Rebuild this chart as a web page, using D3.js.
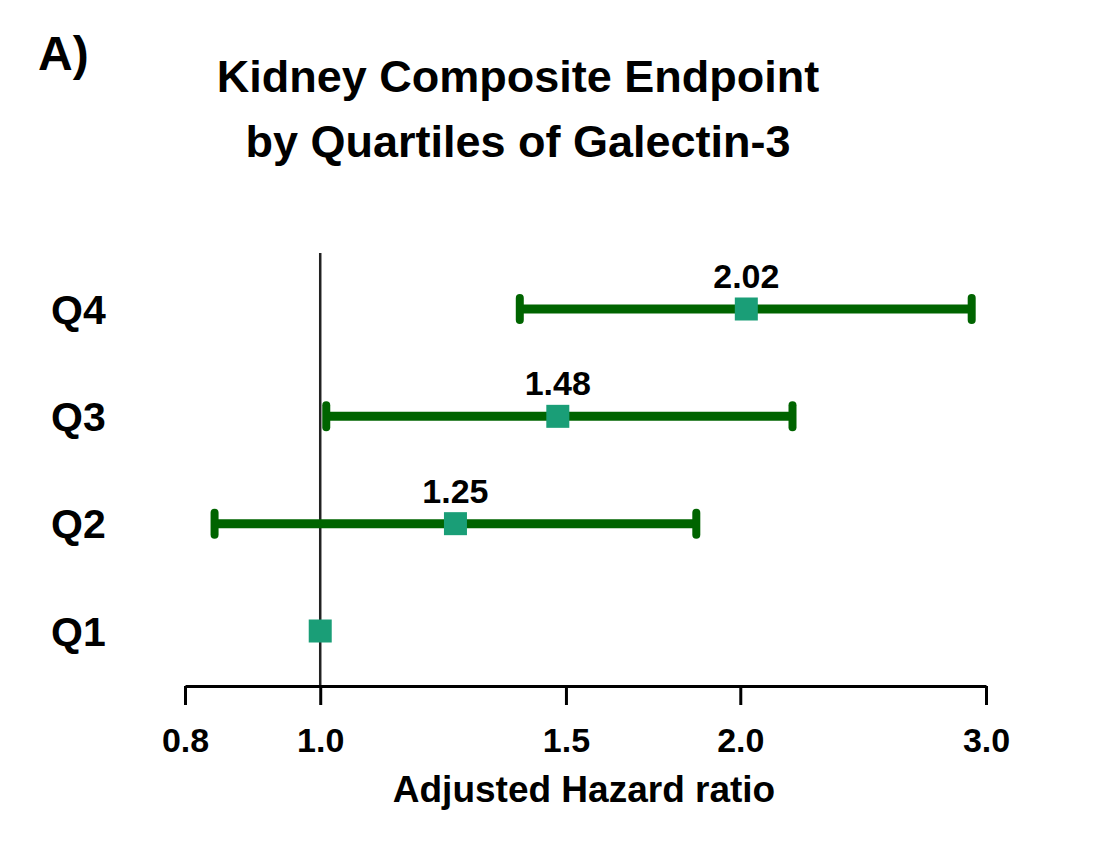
<!DOCTYPE html>
<html><head><meta charset="utf-8">
<script src="https://cdn.jsdelivr.net/npm/d3@7"></script>
<style>body{margin:0;background:#fff}svg{display:block}text{font-family:"Liberation Sans",Arial,sans-serif;font-weight:bold;fill:#000}</style>
</head><body>
<script>
const categories = ["Q4","Q3","Q2","Q1"];
const hr = [2.02, 1.48, 1.25, 1.00];
const lower = [1.39, 1.01, 0.84, null];
const upper = [2.93, 2.18, 1.86, null];
const valueLabels = ["2.02","1.48","1.25",""];
const tickValues = [0.8, 1.0, 1.5, 2.0, 3.0];

const W = 1095, H = 851;
const svg = d3.select("body").append("svg").attr("width", W).attr("height", H);

const x = d3.scaleLog().domain([0.8, 3.0]).range([185, 986]);
const y = d3.scalePoint().domain(categories).range([309, 631]);

svg.append("text").attr("x", 38).attr("y", 70).attr("font-size", 48).text("A)");
svg.append("text").attr("x", 518).attr("y", 92).attr("text-anchor","middle").attr("font-size", 45).text("Kidney Composite Endpoint");
svg.append("text").attr("x", 518).attr("y", 157).attr("text-anchor","middle").attr("font-size", 45).text("by Quartiles of Galectin-3");

// reference line
svg.append("line").attr("x1", x(1)).attr("x2", x(1)).attr("y1", 253).attr("y2", 686)
  .attr("stroke", "#222").attr("stroke-width", 2.5);

// axis
const axis = d3.axisBottom(x).tickValues(tickValues).tickFormat(d3.format(".1f")).tickSize(19).tickSizeOuter(0);
const gx = svg.append("g").attr("transform", "translate(0,686)").call(axis);
gx.select(".domain").attr("stroke", "#000").attr("stroke-width", 3);
gx.selectAll(".tick line").attr("stroke", "#000").attr("stroke-width", 3);
gx.selectAll(".tick text").attr("y", 66).attr("dy", null).attr("font-size", 34)
  .attr("font-family", '"Liberation Sans",Arial,sans-serif').attr("font-weight","bold").attr("fill","#000");

svg.append("text").attr("x", 584).attr("y", 802).attr("text-anchor","middle").attr("font-size", 37).text("Adjusted Hazard ratio");

// category labels
categories.forEach((c,i)=>{
  svg.append("text").attr("x", 51).attr("y", y(c)).attr("dy","0.36em").attr("font-size", 41).text(c);
});

const green = "#006400", teal = "#1a9e77";
categories.forEach((c,i)=>{
  const cy = y(c);
  if (lower[i] != null) {
    svg.append("line").attr("x1", x(lower[i])).attr("x2", x(upper[i])).attr("y1", cy).attr("y2", cy)
      .attr("stroke", green).attr("stroke-width", 9);
    [lower[i], upper[i]].forEach(v=>{
      svg.append("line").attr("x1", x(v)).attr("x2", x(v)).attr("y1", cy-11).attr("y2", cy+11)
        .attr("stroke", green).attr("stroke-width", 8).attr("stroke-linecap","round");
    });
  }
  svg.append("rect").attr("x", x(hr[i])-11.5).attr("y", cy-11.5).attr("width", 23).attr("height", 23).attr("fill", teal);
  if (valueLabels[i]) {
    svg.append("text").attr("x", x(hr[i])).attr("y", cy-21).attr("text-anchor","middle").attr("font-size", 34).text(valueLabels[i]);
  }
});
</script>
</body></html>
